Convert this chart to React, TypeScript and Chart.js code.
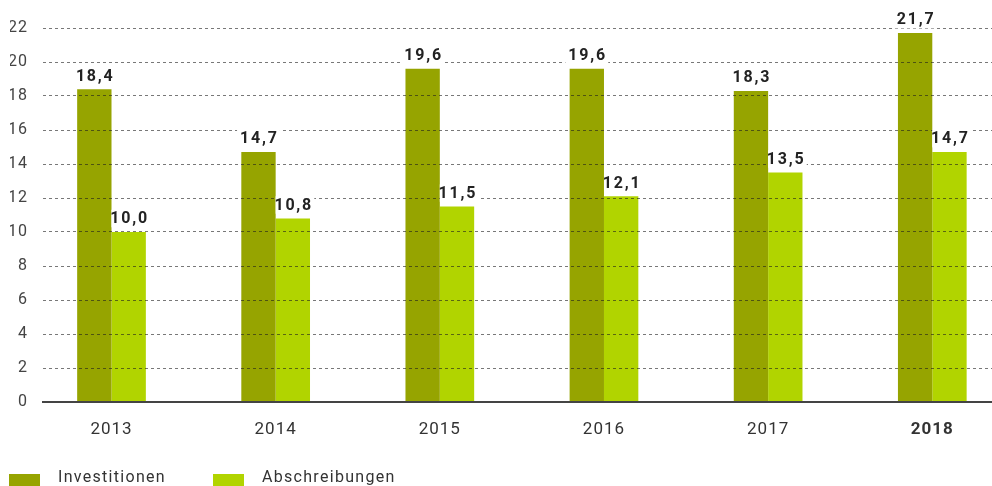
import React, { useEffect, useRef } from "react";
import { Chart, registerables } from "chart.js";

Chart.register(...registerables);

// ---- data ----
const years = ["2013", "2014", "2015", "2016", "2017", "2018"];
const investitionen = [18.4, 14.7, 19.6, 19.6, 18.3, 21.7];
const abschreibungen = [10.0, 10.8, 11.5, 12.1, 13.5, 14.7];
const seriesNames = ["Investitionen", "Abschreibungen"];
const seriesColors = ["#96A400", "#B1D400"];
const yMax = 22;
const yStep = 2;
const boldYearIndex = 5;

const FONT = "Roboto, 'DejaVu Sans', sans-serif";

const fmt = (v: number) => v.toFixed(1).replace(".", ",");

const spacingPlugin = {
  id: "spacing",
  beforeDraw(chart: any) {
    try {
      chart.ctx.letterSpacing = "1px";
    } catch (e) {}
  },
};

const valueLabels = {
  id: "valueLabels",
  afterDraw(chart: any) {
    const ctx = chart.ctx as CanvasRenderingContext2D;
    ctx.save();
    ctx.font = `bold 16px ${FONT}`;
    try {
      (ctx as any).letterSpacing = "1.8px";
    } catch (e) {}
    ctx.textAlign = "left";
    ctx.textBaseline = "alphabetic";
    chart.data.datasets.forEach((ds: any, di: number) => {
      const meta = chart.getDatasetMeta(di);
      meta.data.forEach((bar: any, i: number) => {
        const v = ds.data[i].y as number;
        const text = fmt(v);
        const w = ctx.measureText(text).width - 1.8;
        const x0 = bar.x - w / 2;
        const base = bar.y - 8.7;
        const capTop = base - 11.5;
        let bl = x0 - 3;
        const br = x0 + w + 3;
        if (di === 1) bl = Math.max(bl, bar.x - bar.width / 2);
        ctx.fillStyle = "#ffffff";
        ctx.fillRect(bl, capTop - 2, br - bl, Math.min(base + 4, bar.y) - (capTop - 2));
        ctx.fillStyle = "#222222";
        ctx.fillText(text, x0, base);
      });
    });
    ctx.restore();
  },
};

export default function App() {
  const ref = useRef<HTMLCanvasElement | null>(null);

  useEffect(() => {
    document.body.style.margin = "0";
    if (!ref.current) return;
    const chart = new Chart(ref.current, {
      type: "bar",
      data: {
        datasets: [investitionen, abschreibungen].map((arr, di) => ({
          label: seriesNames[di],
          data: arr.map((v, i) => ({ x: i, y: v })),
          backgroundColor: seriesColors[di],
          borderWidth: 0,
          categoryPercentage: 0.4185,
          barPercentage: 1,
        })),
      },
      options: {
        animation: false,
        responsive: false,
        maintainAspectRatio: false,
        devicePixelRatio: 1,
        layout: { padding: { left: 10, right: 0, top: 28, bottom: 47 } },
        plugins: {
          legend: { display: false },
          tooltip: { enabled: false },
        },
        scales: {
          x: {
            type: "linear",
            offset: false,
            min: -0.4173,
            max: 5.3637,
            grid: { display: false, drawTicks: false, offset: false },
            border: { display: true, color: "#444444", width: 2, z: 1 },
            afterBuildTicks: (scale: any) => {
              scale.ticks = years.map((_, i) => ({ value: i }));
            },
            afterFit: (scale: any) => {
              scale.height = 37;
            },
            ticks: {
              autoSkip: false,
              maxRotation: 0,
              padding: 18,
              color: "#333333",
              font: (c: any) => ({
                family: FONT,
                size: 17,
                weight: c.index === boldYearIndex ? "bold" : "normal",
              }),
              callback: (val: any) => years[val as number] ?? "",
            },
          },
          y: {
            min: 0,
            max: yMax,
            afterFit: (scale: any) => {
              scale.width = 33;
            },
            grid: {
              z: 1,
              drawTicks: false,
              color: (c: any) => (c.tick && c.tick.value === 0 ? "rgba(0,0,0,0)" : "rgba(30,30,30,0.6)"),
              lineWidth: 1,
            },
            border: { display: false, dash: [3, 3] },
            ticks: {
              stepSize: yStep,
              padding: 15,
              color: "#444444",
              font: { family: FONT, size: 16 },
            },
          },
        },
      },
      plugins: [spacingPlugin, valueLabels],
    } as any);
    return () => chart.destroy();
  }, []);

  const legendText: React.CSSProperties = {
    position: "absolute",
    top: 468.6,
    fontFamily: FONT,
    fontSize: 16,
    lineHeight: "16px",
    letterSpacing: "1.3px",
    color: "#333333",
    whiteSpace: "nowrap",
  };
  const sw: React.CSSProperties = { position: "absolute", top: 474, width: 31, height: 14 };

  return (
    <div style={{ position: "fixed", left: 0, top: 0, width: 992, height: 486, overflow: "hidden", background: "#fff" }}>
      <canvas ref={ref} width={992} height={486} style={{ position: "absolute", left: 0, top: 0, width: 992, height: 486 }} />
      <div style={{ ...sw, left: 9, background: seriesColors[0] }} />
      <div style={{ ...legendText, left: 58 }}>{seriesNames[0]}</div>
      <div style={{ ...sw, left: 213, background: seriesColors[1] }} />
      <div style={{ ...legendText, left: 262 }}>{seriesNames[1]}</div>
    </div>
  );
}
